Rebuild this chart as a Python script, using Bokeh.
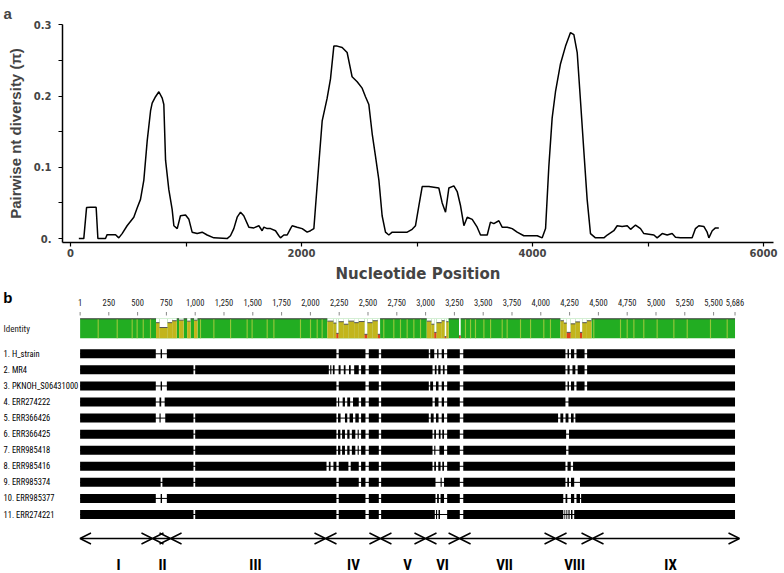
from bokeh.plotting import figure
from bokeh.models import Range1d, FixedTicker, Arrow, OpenHead
from bokeh.core.properties import value
from bokeh.embed import file_html
from bokeh.resources import INLINE

# ---------------- Panel a data ----------------
nt_position = [72, 115, 139, 173, 222, 237, 303, 317, 390, 418, 447, 490, 548, 577, 606, 635, 664, 693, 707, 736,
               765, 794, 808, 823, 851, 880, 895, 924, 952, 996, 1025, 1053, 1097, 1140, 1183, 1241, 1356, 1385,
               1414, 1443, 1472, 1500, 1544, 1587, 1631, 1659, 1674, 1703, 1732, 1775, 1804, 1818, 1847, 1876,
               1905, 1919, 1962, 2006, 2049, 2078, 2107, 2121, 2150, 2179, 2222, 2251, 2280, 2309, 2352, 2395,
               2424, 2438, 2482, 2525, 2554, 2583, 2612, 2641, 2670, 2698, 2727, 2756, 2785, 2828, 2857, 2915,
               2958, 2987, 3016, 3045, 3103, 3189, 3218, 3247, 3276, 3319, 3348, 3377, 3406, 3435, 3478, 3521,
               3550, 3608, 3636, 3665, 3709, 3737, 3781, 3824, 3867, 3925, 4041, 4084, 4113, 4141, 4170, 4199,
               4242, 4286, 4329, 4358, 4387, 4416, 4444, 4473, 4502, 4545, 4618, 4647, 4704, 4733, 4776, 4820,
               4849, 4892, 4935, 4964, 5051, 5079, 5123, 5166, 5209, 5238, 5281, 5382, 5411, 5440, 5483, 5512,
               5527, 5556, 5584, 5613]
pi_diversity = [0, 0, 0.0435, 0.044, 0.044, 0, 0, 0.0055, 0.0055, 0.001, 0.007, 0.018, 0.03, 0.043, 0.055, 0.082,
                0.137, 0.179, 0.19, 0.199, 0.206, 0.197, 0.188, 0.11, 0.069, 0.041, 0.018, 0.014, 0.032, 0.033,
                0.027, 0.009, 0.007, 0.009, 0.005, 0.001, 0, 0.004, 0.014, 0.03, 0.037, 0.032, 0.016, 0.015,
                0.018, 0.011, 0.016, 0.014, 0.014, 0.011, 0.004, 0.001, 0.005, 0.005, 0.014, 0.018, 0.016, 0.014,
                0.009, 0.011, 0.014, 0.044, 0.105, 0.165, 0.197, 0.224, 0.27, 0.27, 0.268, 0.261, 0.238, 0.227,
                0.22, 0.211, 0.199, 0.188, 0.147, 0.115, 0.082, 0.032, 0.009, 0.005, 0.009, 0.009, 0.009, 0.009,
                0.013, 0.018, 0.046, 0.073, 0.073, 0.071, 0.05, 0.037, 0.071, 0.074, 0.066, 0.046, 0.018, 0.03,
                0.027, 0.016, 0.005, 0.005, 0.023, 0.021, 0.025, 0.016, 0.016, 0.014, 0.009, 0.004, 0.004, 0.001,
                0.014, 0.1, 0.169, 0.206, 0.245, 0.27, 0.289, 0.286, 0.261, 0.192, 0.124, 0.055, 0.007, 0.001,
                0.001, 0.005, 0.011, 0.018, 0.017, 0.018, 0.013, 0.019, 0.014, 0.007, 0.005, 0.001, 0.007, 0.005,
                0.007, 0.002, 0.001, 0.001, 0.014, 0.018, 0.017, 0.009, 0.001, 0.011, 0.015, 0.015]
x_major_ticks = [0, 2000, 4000, 6000]
x_minor_ticks = [1000, 3000, 5000]
y_major_ticks = [0, 0.1, 0.2, 0.3]
y_minor_ticks = [0.05, 0.15, 0.25]
y_tick_labels = ["0.", "0.1", "0.2", "0.3"]

# ---------------- Panel b data ----------------
seq_length = 5686
ruler_ticks = [1, 250, 500, 750, 1000, 1250, 1500, 1750, 2000, 2250, 2500, 2750, 3000, 3250, 3500,
               3750, 4000, 4250, 4500, 4750, 5000, 5250, 5500, 5686]
sequence_names = ["1. H_strain", "2. MR4", "3. PKNOH_S06431000", "4. ERR274222", "5. ERR366426",
                  "6. ERR366425", "7. ERR985418", "8. ERR985416", "9. ERR985374", "10. ERR985377",
                  "11. ERR274221"]
sequence_gaps = [
    [(658, 700), (712, 754), (2226, 2246), (2478, 2507), (2594, 2614), (3028, 3040), (3075, 3100), (3112, 3140),
     (3160, 3187), (3297, 3327), (4214, 4232), (4245, 4262), (4290, 4310), (4380, 4402)],
    [(985, 1000), (2160, 2172), (2182, 2195), (2210, 2245), (2262, 2290), (2305, 2335), (2350, 2380), (2420, 2440),
     (2478, 2507), (2594, 2614), (3060, 3080), (3095, 3110), (3130, 3150), (3165, 3187), (3297, 3327),
     (4214, 4232), (4250, 4275), (4300, 4320), (4380, 4402)],
    [(658, 700), (712, 754), (2226, 2246), (2478, 2507), (2594, 2614), (3028, 3040), (3065, 3090), (3112, 3140),
     (3160, 3187), (3297, 3327), (4214, 4232), (4245, 4262), (4290, 4310), (4380, 4402)],
    [(658, 690), (705, 735), (2226, 2240), (2250, 2280), (2300, 2320), (2345, 2370), (2420, 2440), (2478, 2507),
     (2594, 2614), (3060, 3080), (3112, 3140), (3160, 3187), (3297, 3327), (4214, 4240)],
    [(658, 690), (700, 740), (985, 1000), (2226, 2240), (2262, 2300), (2320, 2340), (2370, 2390), (2420, 2440),
     (2478, 2507), (2594, 2614), (3028, 3045), (3070, 3090), (3112, 3140), (3160, 3187), (3297, 3327),
     (4150, 4170), (4195, 4215), (4240, 4262), (4285, 4300)],
    [(985, 1000), (2226, 2240), (2260, 2275), (2300, 2320), (2340, 2360), (2390, 2410), (2420, 2440), (2478, 2507),
     (2594, 2614), (3060, 3075), (3090, 3115), (3130, 3145), (3160, 3187), (3297, 3327), (4220, 4245)],
    [(985, 1000), (2226, 2240), (2260, 2275), (2300, 2320), (2340, 2360), (2390, 2410), (2420, 2440), (2478, 2507),
     (2594, 2614), (3060, 3075), (3085, 3120), (3160, 3187), (3297, 3327), (4220, 4240)],
    [(985, 1000), (2140, 2160), (2175, 2200), (2226, 2246), (2330, 2350), (2420, 2440), (2478, 2507), (2594, 2614),
     (3060, 3075), (3090, 3110), (3130, 3145), (3160, 3187), (3297, 3327), (4214, 4232), (4260, 4280)],
    [(700, 715), (985, 1000), (2226, 2246), (2420, 2440), (2478, 2507), (2594, 2614), (3086, 3130), (3140, 3160),
     (3297, 3327), (4214, 4230), (4245, 4262), (4290, 4340)],
    [(658, 700), (712, 754), (2226, 2246), (2478, 2507), (2594, 2614), (3086, 3100), (3115, 3130), (3160, 3187),
     (3297, 3327), (4195, 4215), (4230, 4262), (4290, 4310), (4340, 4350)],
    [(985, 1000), (2226, 2246), (2478, 2507), (2594, 2614), (3080, 3090), (3100, 3112), (3125, 3187), (3297, 3327),
     (4195, 4205), (4212, 4222), (4230, 4240), (4250, 4262), (4275, 4290)],
]
# identity graph: positions of slightly lower-identity columns (light stripes)
identity_stripes = [158, 323, 453, 496, 549, 612, 1046, 1162, 1307, 1451, 1494, 1625, 1683, 1914, 2001, 2059,
                    2102, 2637, 2724, 2782, 2840, 2898, 2956, 3346, 3390, 3433, 3506, 3564, 3665, 3708, 3824,
                    3911, 4026, 4084, 4460, 4692, 4750, 4808, 4894, 5010, 5155, 5271, 5473, 5618]
# variable windows: (start, end, identity fraction)
identity_low = [(660, 690, 0.8), (690, 760, 0.55), (760, 800, 0.8), (800, 840, 0.9), (860, 900, 0.93),
                (930, 960, 0.88), (990, 1020, 0.93),
                (2147, 2200, 0.88), (2200, 2225, 0.78), (2225, 2245, 0.25), (2245, 2290, 0.85), (2290, 2330, 0.72),
                (2330, 2380, 0.88), (2380, 2420, 0.8), (2420, 2470, 0.86), (2470, 2495, 0.2), (2495, 2540, 0.8),
                (2540, 2585, 0.9), (2585, 2605, 0.2),
                (3010, 3050, 0.88), (3050, 3075, 0.72), (3075, 3095, 0.3), (3095, 3140, 0.8), (3140, 3165, 0.9),
                (3165, 3180, 0.08), (3180, 3200, 0.85), (3290, 3305, 0.12),
                (4170, 4200, 0.9), (4200, 4225, 0.78), (4225, 4260, 0.3), (4260, 4300, 0.74), (4300, 4340, 0.84),
                (4340, 4360, 0.3), (4360, 4400, 0.8), (4400, 4440, 0.9)]
region_bounds = [0, 629, 786, 2131, 2608, 2999, 3295, 4128, 4449, 5725]
region_names = ["I", "II", "III", "IV", "V", "VI", "VII", "VIII", "IX"]
region_label_pos = [334, 716, 1523, 2374, 2843, 3147, 3685, 4293, 5126]

NARROW = "Roboto Condensed, Liberation Sans Narrow, Arial Narrow, Liberation Sans, sans-serif"
W = 784
H_TOP = 285
H_BOT = 288

# ---------------- Panel a ----------------
p1 = figure(width=W, height=H_TOP, output_backend="svg", toolbar_location=None,
            x_range=Range1d(-69.3, 6086.5), y_range=Range1d(-0.0055, 0.3003),
            min_border_left=62, min_border_right=11, min_border_top=22, min_border_bottom=41)
p1.outline_line_color = None
p1.grid.visible = False
p1.line(nt_position, pi_diversity, line_color="black", line_width=1.5)

p1.title.text = "a"
p1.title.align = "left"
p1.title.offset = -59
p1.title.standoff = 5
p1.title.text_font = "Liberation Sans"
p1.title.text_font_style = "bold"
p1.title.text_font_size = "15px"

xa = p1.xaxis[0]
xa.ticker = FixedTicker(ticks=x_major_ticks, minor_ticks=x_minor_ticks)
xa.axis_label = "Nucleotide Position"
xa.axis_label_text_font = "DejaVu Sans"
xa.axis_label_text_font_style = "bold"
xa.axis_label_text_font_size = "15px"
xa.axis_label_standoff = 5
xa.major_label_text_font = "DejaVu Sans"
xa.major_label_text_font_style = "bold"
xa.major_label_text_font_size = "10px"
xa.major_label_standoff = 2
xa.major_tick_out = 4
xa.major_tick_in = 0
xa.minor_tick_out = 4
xa.minor_tick_in = 0
xa.axis_line_width = 1.5
xa.major_tick_line_width = 1.2
xa.minor_tick_line_width = 1.2

ya = p1.yaxis[0]
ya.ticker = FixedTicker(ticks=y_major_ticks, minor_ticks=y_minor_ticks)
ya.major_label_overrides = {t: lab for t, lab in zip(y_major_ticks, y_tick_labels)}
ya.axis_label = "Pairwise nt diversity (\u03c0)"
ya.axis_label_text_font = "Liberation Sans"
ya.axis_label_text_font_style = "bold"
ya.axis_label_text_font_size = "15px"
ya.axis_label_standoff = 7
ya.major_label_text_font = "DejaVu Sans"
ya.major_label_text_font_style = "bold"
ya.major_label_text_font_size = "10px"
ya.major_label_standoff = 7
ya.major_tick_out = 4
ya.major_tick_in = 0
ya.minor_tick_out = 4
ya.minor_tick_in = 0
ya.axis_line_width = 1.5
ya.major_tick_line_width = 1.2
ya.minor_tick_line_width = 1.2

# ---------------- Panel b ----------------
p2 = figure(width=W, height=H_BOT, output_backend="svg", toolbar_location=None,
            x_range=Range1d(-690.1, 6115.5), y_range=Range1d(573, 285),
            x_axis_location=None, y_axis_location=None, min_border=0)
p2.outline_line_color = None
p2.grid.visible = False

label_x = -664
p2.text(x=[-666], y=[288], text=["b"], text_font=value("Liberation Sans"), text_font_style="bold",
        text_font_size="15px", text_baseline="top", text_align="left")

# ruler
ruler_labels = [f"{t:,}" for t in ruler_ticks]
p2.text(x=ruler_ticks, y=[302] * len(ruler_ticks), text=ruler_labels, text_font=value(NARROW),
        text_font_size="8.5px", text_align="center", text_baseline="middle", text_color="#222222")
p2.segment(x0=ruler_ticks, x1=ruler_ticks, y0=[311.5] * len(ruler_ticks), y1=[315] * len(ruler_ticks),
           line_color="#888888", line_width=1)

# identity graph
id_top, id_bot = 318.3, 337.7
p2.text(x=[label_x], y=[328], text=["Identity"], text_font=value(NARROW), text_font_size="9px",
        text_align="left", text_baseline="middle", text_color="#222222")
p2.quad(left=[1], right=[seq_length], top=[id_top], bottom=[id_bot], fill_color="#22ad22", line_color=None)
p2.quad(left=[s - 5 for s in identity_stripes], right=[s + 5 for s in identity_stripes],
        top=[id_top] * len(identity_stripes), bottom=[id_bot] * len(identity_stripes),
        fill_color="#95c83a", line_color=None)
lo_l = [a for a, b, f in identity_low]
lo_r = [b for a, b, f in identity_low]
lo_top = [id_bot - f * (id_bot - id_top) for a, b, f in identity_low]
lo_col = ["#e0401a" if f < 0.35 else "#c2b51c" for a, b, f in identity_low]
p2.quad(left=lo_l, right=lo_r, top=[id_top] * len(lo_l), bottom=[id_bot] * len(lo_l),
        fill_color="white", line_color=None)
p2.quad(left=lo_l, right=lo_r, top=lo_top, bottom=[id_bot] * len(lo_l), fill_color=lo_col, line_color=None)
p2.segment(x0=lo_l, x1=lo_r, y0=lo_top, y1=lo_top, line_color="#555555", line_width=1)
edges = [1]
for a, b, f in identity_low:
    edges += [a, b]
edges.append(seq_length)
top_x0 = edges[0::2]
top_x1 = edges[1::2]
p2.segment(x0=top_x0, x1=top_x1, y0=[id_top] * len(top_x0), y1=[id_top] * len(top_x0),
           line_color="#3a3a3a", line_width=1)

# sequences
row_y = [353.3 + i * 16.07 for i in range(len(sequence_names))]
p2.text(x=[label_x] * len(sequence_names), y=row_y, text=sequence_names, text_font=value(NARROW),
        text_font_size="8.5px", text_align="left", text_baseline="middle", text_color="black")
p2.segment(x0=[1] * len(row_y), x1=[seq_length] * len(row_y), y0=row_y, y1=row_y,
           line_color="black", line_width=1)
bl, br, bt, bb = [], [], [], []
for y, gaps in zip(row_y, sequence_gaps):
    start = 1
    for g0, g1 in gaps:
        bl.append(start)
        br.append(g0)
        start = g1
    bl.append(start)
    br.append(seq_length)
    n = len(gaps) + 1
    bt += [y - 4.5] * n
    bb += [y + 4.5] * n
p2.quad(left=bl, right=br, top=bt, bottom=bb, fill_color="black", line_color=None)

# regions
for a, b in zip(region_bounds[:-1], region_bounds[1:]):
    p2.add_layout(Arrow(x_start=a, x_end=b, y_start=538, y_end=538, line_width=1.4, line_color="black",
                        start=OpenHead(size=11, line_width=1.4, line_color="black"),
                        end=OpenHead(size=11, line_width=1.4, line_color="black")))
p2.text(x=region_label_pos, y=[564] * len(region_names), text=region_names,
        text_font=value(NARROW), text_font_style="bold", text_font_size="15px",
        text_align="center", text_baseline="middle", text_color="black")

open("out.html", "w").write(file_html([p1, p2], INLINE))
